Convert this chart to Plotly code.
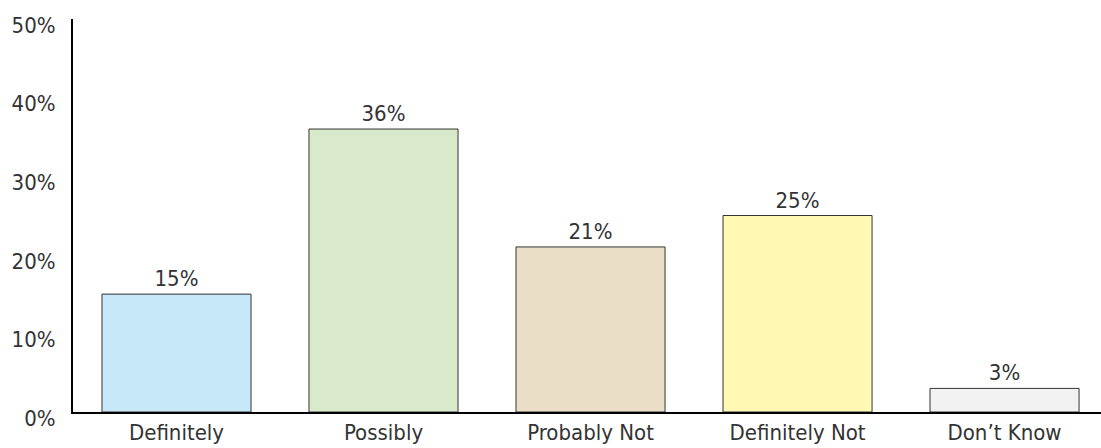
import plotly.graph_objects as go

categories = ["Definitely", "Possibly", "Probably Not", "Definitely Not", "Don\u2019t Know"]
values = [15, 36, 21, 25, 3]
labels = ["15%", "36%", "21%", "25%", "3%"]
colors = ["#C6E8F8", "#D9EACC", "#EADFC6", "#FFF9B4", "#F2F2F2"]
tick_vals = [0, 10, 20, 30, 40, 50]
tick_text = ["0%", "10%", "20%", "30%", "40%", "50%"]

FONT = "DejaVu Sans Condensed, Roboto, sans-serif"

fig = go.Figure(go.Bar(
    x=categories, y=values, text=labels, textposition="outside",
    marker=dict(color=colors, line=dict(color="#333333", width=1)),
    width=0.72, cliponaxis=False,
    textfont=dict(family=FONT, size=22, color="#333333"),
))

fig.update_layout(
    width=1101, height=448,
    margin=dict(l=73, r=0, t=19, b=36),
    paper_bgcolor="white", plot_bgcolor="white",
    showlegend=False,
    font=dict(family=FONT, size=22, color="#333333"),
    xaxis=dict(range=[-0.5, 4.466], showline=True, linecolor="black", linewidth=2,
               ticks="", showgrid=False, tickfont=dict(size=22), ticklabelstandoff=0),
    yaxis=dict(range=[0, 50], tickvals=tick_vals, ticktext=tick_text,
               showline=True, linecolor="black", linewidth=2, showgrid=False,
               zeroline=False, ticks="", ticklabelstandoff=11, ticklabelshift=6,
               tickfont=dict(size=22)),
)

fig.write_html("out.html")
